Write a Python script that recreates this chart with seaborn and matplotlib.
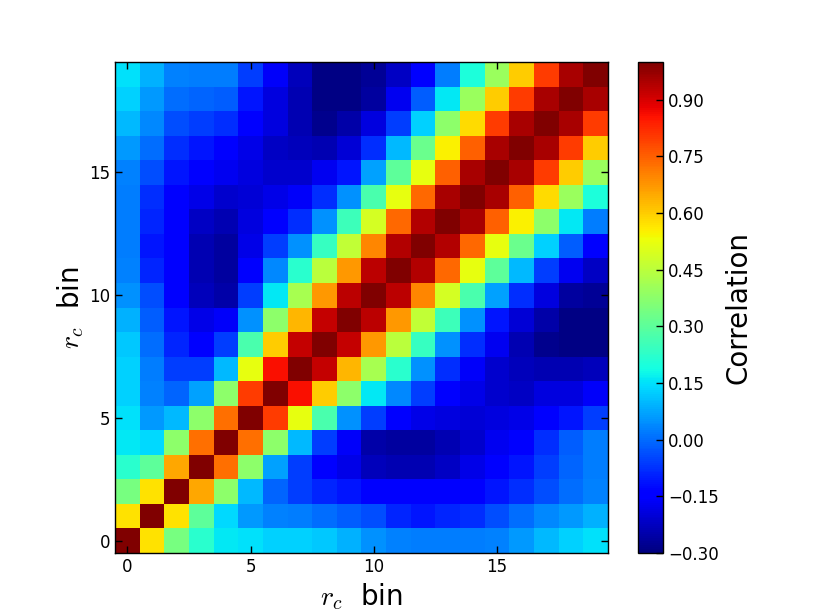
import numpy as np
import seaborn as sns
import matplotlib
matplotlib.use('Agg')
import matplotlib.pyplot as plt

# lower triangle of the correlation matrix, row i holds columns 0..i
row_00 = [1.0]
row_01 = [0.57, 1.0]
row_02 = [0.34, 0.57, 1.0]
row_03 = [0.22, 0.30, 0.65, 1.0]
row_04 = [0.16, 0.14, 0.38, 0.73, 1.0]
row_05 = [0.15, 0.06, 0.10, 0.38, 0.73, 1.0]
row_06 = [0.13, 0.03, -0.01, 0.07, 0.38, 0.80, 1.0]
row_07 = [0.13, 0.02, -0.06, -0.06, 0.10, 0.52, 0.86, 1.0]
row_08 = [0.12, 0.0, -0.09, -0.15, -0.06, 0.27, 0.60, 0.92, 1.0]
row_09 = [0.09, -0.02, -0.11, -0.18, -0.16, 0.05, 0.38, 0.63, 0.92, 1.0]
row_10 = [0.05, -0.04, -0.15, -0.23, -0.25, -0.06, 0.16, 0.42, 0.67, 0.93, 1.0]
row_11 = [0.03, -0.09, -0.15, -0.24, -0.26, -0.15, 0.04, 0.22, 0.45, 0.67, 0.93, 1.0]
row_12 = [0.02, -0.11, -0.15, -0.24, -0.26, -0.18, -0.06, 0.05, 0.24, 0.46, 0.70,
          0.94, 1.0]
row_13 = [0.02, -0.09, -0.15, -0.22, -0.24, -0.19, -0.15, -0.08, 0.05, 0.25, 0.49,
          0.74, 0.94, 1.0]
row_14 = [0.02, -0.08, -0.14, -0.18, -0.21, -0.20, -0.18, -0.16, -0.08, 0.05, 0.27,
          0.52, 0.74, 0.95, 1.0]
row_15 = [0.03, -0.04, -0.11, -0.14, -0.17, -0.19, -0.21, -0.21, -0.17, -0.11, 0.07,
          0.30, 0.52, 0.75, 0.95, 1.0]
row_16 = [0.06, 0.0, -0.08, -0.11, -0.15, -0.18, -0.22, -0.23, -0.24, -0.20, -0.08,
          0.10, 0.32, 0.55, 0.75, 0.95, 1.0]
row_17 = [0.10, 0.04, -0.04, -0.06, -0.08, -0.15, -0.19, -0.24, -0.28, -0.25, -0.19,
          -0.06, 0.13, 0.38, 0.58, 0.80, 0.95, 1.0]
row_18 = [0.13, 0.06, 0.0, -0.01, -0.02, -0.11, -0.19, -0.24, -0.29, -0.29, -0.26,
          -0.17, -0.02, 0.16, 0.40, 0.60, 0.80, 0.95, 1.0]
row_19 = [0.15, 0.09, 0.03, 0.02, 0.02, -0.06, -0.16, -0.23, -0.29, -0.29, -0.27,
          -0.22, -0.15, 0.02, 0.20, 0.40, 0.60, 0.80, 0.95, 1.0]

lower_rows = [row_00, row_01, row_02, row_03, row_04, row_05, row_06, row_07,
              row_08, row_09, row_10, row_11, row_12, row_13, row_14, row_15,
              row_16, row_17, row_18, row_19]

bin_ticks = [0, 5, 10, 15]
cbar_ticks = [-0.30, -0.15, 0.0, 0.15, 0.30, 0.45, 0.60, 0.75, 0.90]

# build the full symmetric matrix
n = len(lower_rows)
corr = np.zeros((n, n))
for i, row in enumerate(lower_rows):
    corr[i, :i + 1] = row
    corr[:i + 1, i] = row

sns.set_style('white')
plt.rcParams['font.family'] = ['DejaVu Sans']
plt.rcParams['mathtext.fontset'] = 'cm'
plt.rcParams['text.color'] = 'black'
plt.rcParams['axes.labelcolor'] = 'black'
plt.rcParams['xtick.color'] = 'black'
plt.rcParams['ytick.color'] = 'black'
plt.rcParams['axes.axisbelow'] = False

fig = plt.figure(figsize=(8.15, 6.15), dpi=100)
ax = fig.add_axes([0.1411, 0.1008, 0.6049, 0.7984])
cax = fig.add_axes([0.7828, 0.1008, 0.0307, 0.7984])

sns.heatmap(corr, cmap='jet', vmin=-0.3, vmax=1.0, ax=ax, cbar_ax=cax,
            cbar_kws={'ticks': cbar_ticks}, xticklabels=False, yticklabels=False)
ax.invert_yaxis()
ax.set_axisbelow(False)
cax.set_axisbelow(False)

ax.set_xticks(np.array(bin_ticks) + 0.5)
ax.set_yticks(np.array(bin_ticks) + 0.5)
ax.set_xticklabels([str(t) for t in bin_ticks], fontsize=12)
ax.set_yticklabels([str(t) for t in bin_ticks], fontsize=12, rotation=0)
ax.tick_params(direction='in', length=5, width=1, color='black', labelcolor='black',
               top=True, right=True, bottom=True, left=True)
for s in ax.spines.values():
    s.set_visible(True)
    s.set_color('black')
    s.set_linewidth(1)

ax.set_xlabel(r'$r_c$  bin', fontsize=20, labelpad=4)
ax.set_ylabel(r'$r_c$  bin', fontsize=20, labelpad=2)

cb = ax.collections[0].colorbar
cb.outline.set_visible(True)
cb.outline.set_linewidth(1)
cb.outline.set_edgecolor('black')
cb.set_ticks(cbar_ticks)
cb.set_ticklabels([f'{t:.2f}'.replace('-', '\u2212') for t in cbar_ticks])
cax.tick_params(direction='in', length=5, width=1, color='black', labelcolor='black',
                labelsize=12, right=True, left=False)
cb.set_label('Correlation', fontsize=20, labelpad=4)

fig.savefig('out.png', dpi=100)
